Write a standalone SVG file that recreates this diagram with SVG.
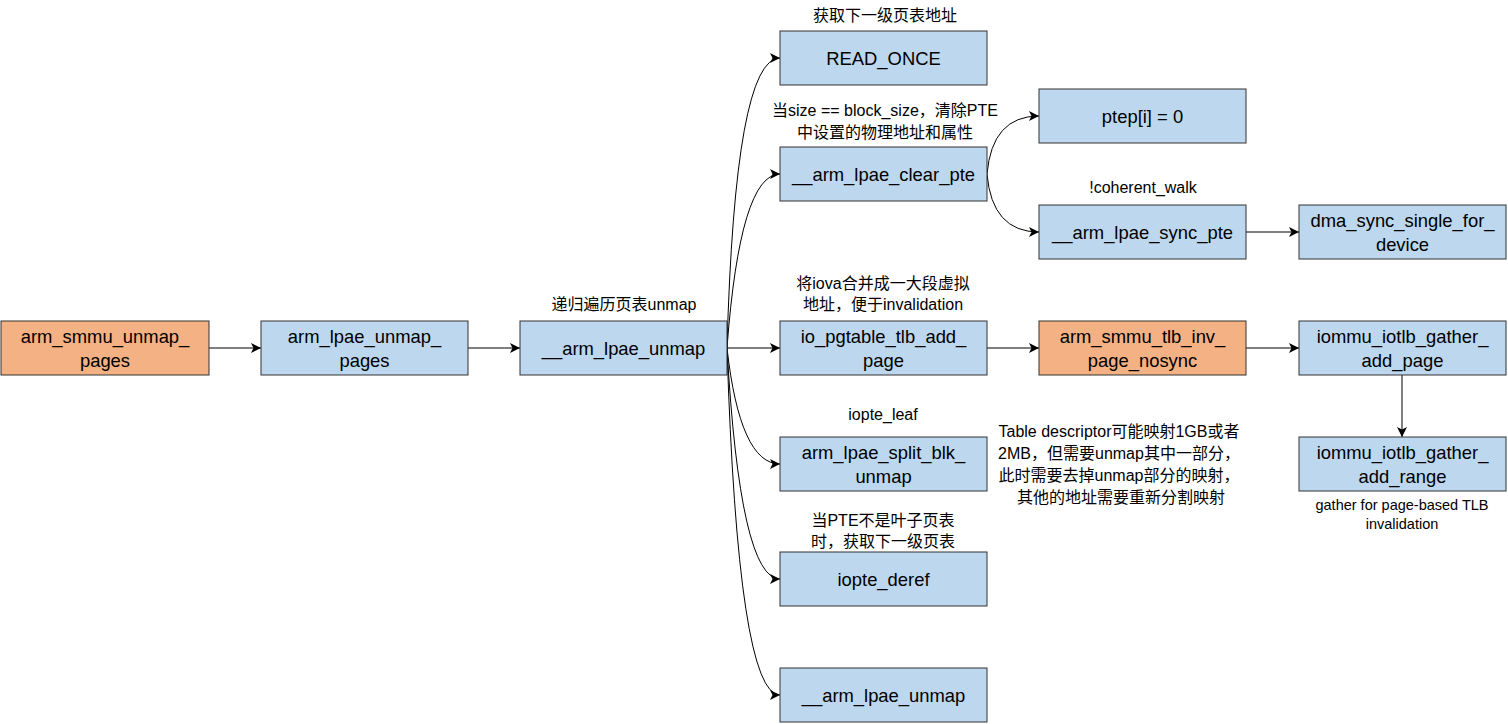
<svg xmlns="http://www.w3.org/2000/svg" width="1508" height="724" viewBox="0 0 1508 724">
<defs>
<marker id="arr" viewBox="0 0 10 10" refX="10" refY="5" markerWidth="10" markerHeight="10" markerUnits="userSpaceOnUse" orient="auto">
<path d="M0,0 L10,5 L0,10 L2.5,5 Z" fill="#000"/>
</marker>
<style>
.box{stroke:#333;stroke-width:1}
.blue{fill:#BDD7EE}
.orange{fill:#F4B183}
.t{font-family:"Liberation Sans","Noto Sans CJK SC",sans-serif;font-size:18.4px;fill:#000;text-anchor:middle;dominant-baseline:central}
.l{font-family:"Liberation Sans","Noto Sans CJK SC",sans-serif;font-size:16px;fill:#000;text-anchor:middle;dominant-baseline:central}
.s{font-family:"Liberation Sans","Noto Sans CJK SC",sans-serif;font-size:14.5px;fill:#000;text-anchor:middle;dominant-baseline:central}
.e{fill:none;stroke:#000;stroke-width:1;marker-end:url(#arr)}
</style>
</defs>
<rect width="1508" height="724" fill="#fff"/>
<g id="connectors">
<path class="e" d="M209,348 L261,348"/>
<path class="e" d="M468,348 L520,348"/>
<path class="e" d="M727,348 Q735,58 780,58"/>
<path class="e" d="M727,348 Q740,174 780,174"/>
<path class="e" d="M727,348 L780,348"/>
<path class="e" d="M727,348 Q740,464 780,464"/>
<path class="e" d="M727,348 Q740,579 780,579"/>
<path class="e" d="M727,348 Q738,695 780,695"/>
<path class="e" d="M987,174 Q992,116 1039,116"/>
<path class="e" d="M987,174 Q992,232 1039,232"/>
<path class="e" d="M1246,232 L1299,232"/>
<path class="e" d="M987,348 L1039,348"/>
<path class="e" d="M1246,348 L1299,348"/>
<path class="e" d="M1402,375 L1402,437"/>
</g>
<g id="n_arm_smmu_unmap_pages"><rect class="box orange" x="1" y="321" width="208" height="54"/><text class="t" x="105" y="336">arm_smmu_unmap_</text><text class="t" x="105" y="360">pages</text></g>
<g id="n_arm_lpae_unmap_pages"><rect class="box blue" x="261" y="321" width="207" height="54"/><text class="t" x="364.5" y="336">arm_lpae_unmap_</text><text class="t" x="364.5" y="360">pages</text></g>
<g id="n_arm_lpae_unmap"><rect class="box blue" x="520" y="321" width="207" height="54"/><text class="t" x="623.5" y="348">__arm_lpae_unmap</text></g>
<g id="n_read_once"><rect class="box blue" x="780" y="31" width="207" height="54"/><text class="t" x="883.5" y="58">READ_ONCE</text></g>
<g id="n_clear_pte"><rect class="box blue" x="780" y="147" width="207" height="54"/><text class="t" x="883.5" y="174">__arm_lpae_clear_pte</text></g>
<g id="n_ptep"><rect class="box blue" x="1039" y="89" width="207" height="54"/><text class="t" x="1142.5" y="116">ptep[i] = 0</text></g>
<g id="n_sync_pte"><rect class="box blue" x="1039" y="205" width="207" height="54"/><text class="t" x="1142.5" y="232">__arm_lpae_sync_pte</text></g>
<g id="n_dma_sync"><rect class="box blue" x="1299" y="205" width="207" height="54"/><text class="t" x="1402.5" y="220">dma_sync_single_for_</text><text class="t" x="1402.5" y="244">device</text></g>
<g id="n_tlb_add_page"><rect class="box blue" x="780" y="321" width="207" height="54"/><text class="t" x="883.5" y="336">io_pgtable_tlb_add_</text><text class="t" x="883.5" y="360">page</text></g>
<g id="n_tlb_inv"><rect class="box orange" x="1039" y="321" width="207" height="54"/><text class="t" x="1142.5" y="336">arm_smmu_tlb_inv_</text><text class="t" x="1142.5" y="360">page_nosync</text></g>
<g id="n_gather_page"><rect class="box blue" x="1299" y="321" width="207" height="54"/><text class="t" x="1402.5" y="336">iommu_iotlb_gather_</text><text class="t" x="1402.5" y="360">add_page</text></g>
<g id="n_gather_range"><rect class="box blue" x="1299" y="437" width="207" height="54"/><text class="t" x="1402.5" y="452">iommu_iotlb_gather_</text><text class="t" x="1402.5" y="476">add_range</text></g>
<g id="n_split_blk"><rect class="box blue" x="780" y="437" width="207" height="54"/><text class="t" x="883.5" y="452">arm_lpae_split_blk_</text><text class="t" x="883.5" y="476">unmap</text></g>
<g id="n_iopte_deref"><rect class="box blue" x="780" y="552" width="207" height="54"/><text class="t" x="883.5" y="579">iopte_deref</text></g>
<g id="n_arm_lpae_unmap2"><rect class="box blue" x="780" y="668" width="207" height="54"/><text class="t" x="883.5" y="695">__arm_lpae_unmap</text></g>
<g id="labels">
<text class="l" x="885" y="15">获取下一级页表地址</text>
<text class="l" x="885" y="110">当size == block_size，清除PTE</text>
<text class="l" x="885" y="132">中设置的物理地址和属性</text>
<text class="l" x="1143" y="187">!coherent_walk</text>
<text class="l" x="624" y="304">递归遍历页表unmap</text>
<text class="l" x="883" y="283">将iova合并成一大段虚拟</text>
<text class="l" x="883" y="304">地址，便于invalidation</text>
<text class="l" x="883" y="414">iopte_leaf</text>
<text class="l" x="1119" y="431">Table descriptor可能映射1GB或者</text>
<text class="l" x="1119" y="453">2MB，但需要unmap其中一部分，</text>
<text class="l" x="1119" y="475">此时需要去掉unmap部分的映射，</text>
<text class="l" x="1121" y="497">其他的地址需要重新分割映射</text>
<text class="l" x="883" y="520">当PTE不是叶子页表</text>
<text class="l" x="883" y="541">时，获取下一级页表</text>
<text class="s" x="1402" y="505">gather for page-based TLB</text>
<text class="s" x="1402" y="524">invalidation</text>
</g>
</svg>
